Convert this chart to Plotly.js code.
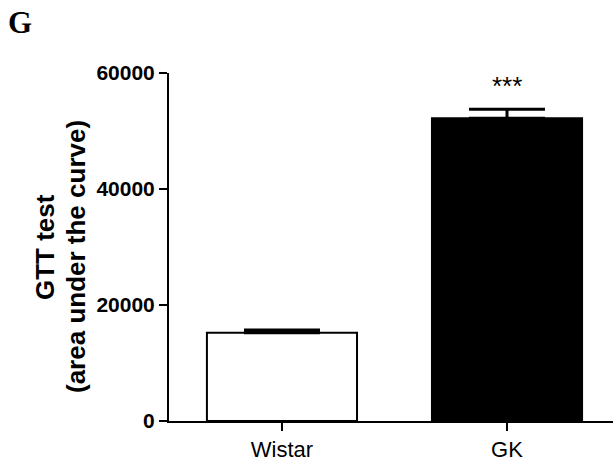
<!DOCTYPE html>
<html>
<head>
<meta charset="utf-8">
<script src="https://cdn.plot.ly/plotly-3.0.1.min.js"></script>
<style>html,body{margin:0;padding:0;background:#fff;}#chart{width:613px;height:465px;}</style>
</head>
<body>
<div id="chart"></div>
<script>
const categories = ["Wistar", "GK"];
const means = [15200, 52200];
const sem = [500, 1550];
const barColors = ["#ffffff", "#000000"];
const significance = ["", "***"];
const yTicks = [0, 20000, 40000, 60000];
const panelLabel = "G";
const yTitleLines = ["GTT test", "(area under the curve)"];

const trace = {
  type: "bar",
  x: categories,
  y: means,
  width: 0.667,
  marker: {color: barColors, line: {color: "#000", width: 2}},
  error_y: {type: "data", symmetric: false, array: sem, arrayminus: sem.map(() => 0),
            color: "#000", thickness: 3, width: 38},
  hoverinfo: "none"
};

const annotations = [];
categories.forEach((c, i) => {
  if (significance[i]) {
    annotations.push({x: c, y: means[i] + sem[i], xref: "x", yref: "y", text: significance[i],
      showarrow: false, yanchor: "bottom", yshift: 6,
      font: {family: "Liberation Sans, Arial, sans-serif", size: 26, color: "#000"}});
  }
});
annotations.push({x: 0, y: 1, xref: "paper", yref: "paper", xanchor: "left", yanchor: "top",
  xshift: -169 + 6, yshift: 73 - 3, text: "<b>" + panelLabel + "</b>", showarrow: false,
  font: {family: "Liberation Serif, Times New Roman, serif", size: 31, color: "#000"}});
// two-line rotated axis title, line centres at x=45 and x=76 px
const titleX = [45, 76];
const titleYShift = [0, -10];
yTitleLines.forEach((t, i) => {
  annotations.push({x: 0, y: 0.5, xref: "paper", yref: "paper", xanchor: "center", yanchor: "middle",
    xshift: -(169 - titleX[i]), yshift: titleYShift[i], textangle: -90, text: "<b>" + t + "</b>",
    showarrow: false, font: {family: "Liberation Sans, Arial, sans-serif", size: 26, color: "#000"}});
});

const layout = {
  width: 613, height: 465,
  margin: {l: 169, r: 0, t: 73, b: 44, pad: 0},
  paper_bgcolor: "#fff", plot_bgcolor: "#fff",
  showlegend: false,
  font: {family: "Liberation Sans, Arial, sans-serif", color: "#000"},
  xaxis: {
    type: "category", range: [-0.502, 1.471],
    showline: true, linecolor: "#000", linewidth: 2,
    ticks: "outside", ticklen: 8, tickwidth: 2, tickcolor: "#000",
    tickfont: {size: 22, family: "Liberation Sans, Arial, sans-serif"},
    showgrid: false, zeroline: false, fixedrange: true
  },
  yaxis: {
    range: [0, 60000], tickvals: yTicks, ticktext: yTicks.map(String),
    showline: true, linecolor: "#000", linewidth: 2,
    ticks: "outside", ticklen: 8, tickwidth: 2, tickcolor: "#000",
    tickfont: {size: 21, family: "Liberation Sans, Arial, sans-serif", weight: "bold"},
    showgrid: false, zeroline: false, fixedrange: true
  },
  annotations: annotations
};

Plotly.newPlot("chart", [trace], layout, {displayModeBar: false, staticPlot: true});
</script>
</body>
</html>
